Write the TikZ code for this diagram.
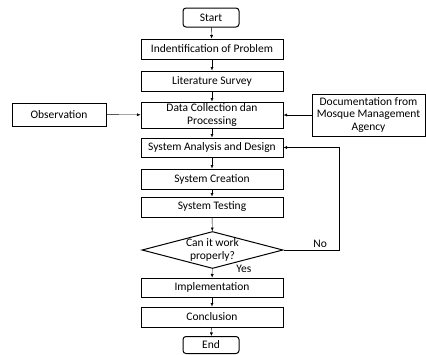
\documentclass[tikz,border=0pt]{standalone}
\usepackage{fontspec}
\setmainfont{Carlito}
\usetikzlibrary{shapes.geometric,arrows.meta}

\begin{document}
\begin{tikzpicture}[x=1pt,y=-1pt,every path/.style={>={Latex[length=3.5pt,width=3pt]}},
		stage/.style={draw,rectangle,line width=1pt,minimum width=142pt,minimum height=20pt,inner sep=1pt,align=center,font=\fontsize{11.5}{12.5}\selectfont},
		terminal/.style={stage,rounded corners=3pt,minimum width=56pt},
		source/.style={stage},
		decision/.style={draw,diamond,line width=1pt,minimum width=141pt,minimum height=37pt,aspect=3.9,inner sep=-3pt,align=center,font=\fontsize{11.5}{12.5}\selectfont},
		branch/.style={font=\fontsize{11.5}{12.5}\selectfont,inner sep=1pt}]
		\useasboundingbox (0,0) rectangle (426,354);
		\node[terminal,minimum height=19pt] (start) at (211,17.5) {Start};
		\node[stage] (problem) at (212,49) {Indentification of Problem};
		\node[stage] (survey) at (212,81) {Literature Survey};
		\node[stage,minimum height=26pt] (data) at (212,115) {Data Collection dan\\Processing};
		\node[source,minimum width=94pt,minimum height=23pt] (observation) at (59,114.5) {Observation};
		\node[source,minimum width=113pt,minimum height=42pt] (documentation) at (368.5,115) {Documentation from\\Mosque Management\\Agency};
		\node[stage,minimum height=19pt] (analysis) at (212,147.5) {System Analysis and Design};
		\node[stage] (creation) at (212,179) {System Creation};
		\node[stage] (testing) at (212,207) {System Testing};
		\node[decision] (check) at (212.5,250) {Can it work\\properly?};
		\node[stage,minimum height=19pt] (implementation) at (212,287.5) {Implementation};
		\node[stage] (conclusion) at (212,317) {Conclusion};
		\node[terminal,minimum height=17pt] (finish) at (211,345) {End};
		\coordinate (noturn) at (339,250);
		
		\draw[->] (start) edge (problem);
		\draw[->] (problem) edge (survey);
		\draw[->] (survey) edge (data);
		\draw[->] (observation) edge (data);
		\draw[->] (documentation) edge (data);
		\draw[->] (data) edge (analysis);
		\draw[->] (analysis) edge (creation);
		\draw[->] (creation) edge (testing);
		\draw[->] (testing) edge (check);
		\draw[->] (check) edge node[branch,pos=0,anchor=west,xshift=23pt] {Yes} (implementation);
		\draw[->] (implementation) edge (conclusion);
		\draw[->] (conclusion) edge (finish);
		\draw[->] (check.east) -- node[branch,pos=0.66,above=1pt] {No} (noturn) |- (analysis.east);
	\end{tikzpicture}
\end{document}
